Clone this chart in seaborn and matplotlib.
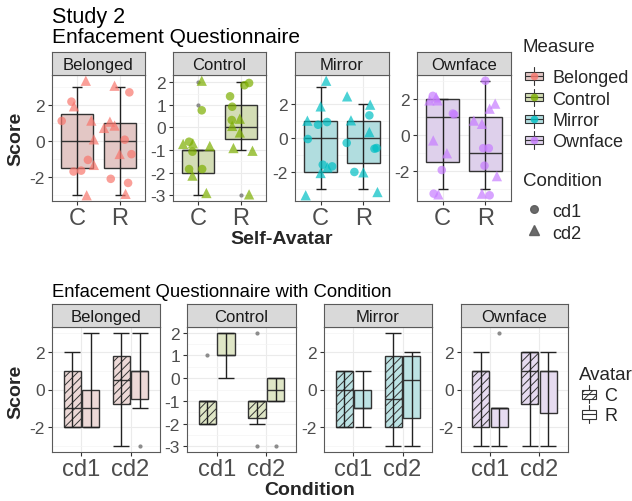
import matplotlib
matplotlib.use("Agg")
import matplotlib.pyplot as plt
import numpy as np
import pandas as pd
import seaborn as sns
from matplotlib import cbook
from matplotlib.legend_handler import HandlerBase
from matplotlib.lines import Line2D
from matplotlib.patches import Patch, Rectangle
from matplotlib.ticker import MultipleLocator

MEASURES = ["Belonged", "Control", "Mirror", "Ownface"]
AVATARS = ["C", "R"]
CONDITIONS = ["cd1", "cd2"]

# each panel has the same layout of rows: C/cd1 (5), C/cd2 (6), R/cd1 (5), R/cd2 (6)
POINT_AVATAR = ["C"] * 11 + ["R"] * 11
POINT_COND = (["cd1"] * 5 + ["cd2"] * 6) * 2

# scores as drawn in the top row (jittered up to ~0.4 around the integer score)
BELONGED_Y = [2.2, 1.12, -1.06, -1.71, -1.66,
              3.37, 1.94, 1.14, 0.09, -1.34, -3.04,
              2.72, 0.07, -0.74, -2.12, -2.35,
              3.09, 1.08, 0.73, 0.86, -0.73, -2.96]
CONTROL_Y = [0.76, -0.63, -1.07, -1.84, -1.84,
             2.07, -0.73, -0.70, -0.82, -2.13, -2.9,
             1.97, 1.87, 1.38, 0.92, 0.33,
             0.39, 0.07, -0.22, -0.91, -1.03, -2.96]
MIRROR_Y = [0.78, 0.94, -0.06, -1.57, -1.67,
            3.37, 1.86, 1.02, -1.73, -2.06, -3.37,
            1.33, -0.29, -0.63, -0.59, -2.0,
            2.45, 1.96, 1.04, 0.35, -2.02, -3.18]
OWNFACE_Y = [2.18, 1.15, 1.2, -1.93, -3.24,
             1.93, 1.93, 2.1, -0.29, -1.0, -3.28,
             3.02, -0.72, -0.72, -1.69, -3.33,
             1.75, 1.47, 0.81, 0.63, -2.27, -3.24]

# horizontal jitter of the same points, in category units
BELONGED_DX = [-0.14, -0.37, 0.25, -0.09, 0.09,
               0.20, -0.08, 0.33, 0.39, 0.39, 0.22,
               0.23, 0.12, 0.28, -0.21, 0.20,
               -0.12, -0.23, -0.37, -0.12, 0.0, 0.14]
CONTROL_DX = [0.08, -0.22, -0.14, -0.22, 0.09,
              0.08, -0.36, -0.13, 0.27, -0.14, 0.19,
              0.20, 0.09, -0.25, -0.20, -0.21,
              -0.02, -0.20, -0.02, -0.17, 0.28, 0.20]
MIRROR_DX = [-0.06, 0.15, -0.30, 0.05, 0.27,
             0.13, 0.0, -0.31, 0.16, 0.0, -0.35,
             0.14, -0.39, 0.26, 0.31, -0.21,
             -0.38, 0.16, -0.29, 0.14, 0.0, 0.33]
OWNFACE_DX = [-0.23, 0.27, 0.24, -0.02, -0.21,
              -0.31, -0.12, -0.15, -0.22, 0.10, -0.10,
              0.0, -0.05, 0.08, -0.02, 0.10,
              0.23, 0.10, -0.27, -0.08, 0.27, -0.08]

POINTS_Y = {"Belonged": BELONGED_Y, "Control": CONTROL_Y, "Mirror": MIRROR_Y, "Ownface": OWNFACE_Y}
POINTS_DX = {"Belonged": BELONGED_DX, "Control": CONTROL_DX, "Mirror": MIRROR_DX, "Ownface": OWNFACE_DX}

POINT_COLORS = {"Belonged": "#F8766D", "Control": "#7CAE00", "Mirror": "#00BFC4", "Ownface": "#C77CFF"}
TOP_FILL = {"Belonged": "#E3C7C5", "Control": "#D3DDB5", "Mirror": "#B1DDDF", "Ownface": "#DED0EB"}
BOT_FILL = {"Belonged": "#EDD9D7", "Control": "#DFE6C6", "Mirror": "#BDE3E4", "Ownface": "#E6DBF0"}
TICK_STEP = {"Belonged": 2, "Control": 1, "Mirror": 2, "Ownface": 2}

LINE = "#333333"
HATCH = "////"
W, H = 632, 502
TOP_X = [(52, 145), (173, 266), (295, 389), (417, 511)]
TOP_Y = (76, 202)
BOT_X = [(52, 160), (187, 296), (324, 432), (461, 568)]
BOT_Y = (328, 453)
STRIP_H = 23

sns.set_theme(style="white")
plt.rcParams["font.family"] = ["Liberation Sans", "DejaVu Sans"]
plt.rcParams["axes.unicode_minus"] = False
plt.rcParams["hatch.linewidth"] = 0.7


def px_rect(x0, x1, y0, y1):
    return [x0 / W, 1 - y1 / H, (x1 - x0) / W, (y1 - y0) / H]


class BoxKey(HandlerBase):
    """little boxplot glyph used as legend key (optionally with the point colour on top)"""

    def __init__(self, face, dot=None, hatch=None, box_frac=0.5):
        super().__init__()
        self.face, self.dot, self.hatch, self.box_frac = face, dot, hatch, box_frac

    def create_artists(self, legend, orig_handle, xd, yd, width, height, fontsize, trans):
        x0, y0 = -xd, -yd
        bh = self.box_frac * height
        box = Rectangle((x0, y0 + (height - bh) / 2), width, bh, facecolor=self.face,
                        edgecolor=LINE, lw=0.8, hatch=self.hatch, transform=trans)
        whisk = Line2D([x0 + width / 2] * 2, [y0 - 0.05 * height, y0 + 1.05 * height],
                       color=LINE, lw=0.8, transform=trans)
        med = Line2D([x0, x0 + width], [y0 + height / 2] * 2, color=LINE, lw=0.8, transform=trans)
        artists = [whisk, box, med]
        if self.dot:
            artists.append(Line2D([x0 + width / 2], [y0 + height / 2], marker="o", ms=5.5, ls="",
                                  color=self.dot, alpha=0.8, mec="none", transform=trans))
        return artists


def style_panel(ax, step, lims):
    ax.set_xlim(-0.6, 1.6)
    ax.set_ylim(*lims)
    ax.set_xlabel("")
    ax.set_ylabel("")
    ax.yaxis.set_major_locator(MultipleLocator(step))
    ax.yaxis.set_minor_locator(MultipleLocator(step / 2))
    ax.grid(which="major", color="#EBEBEB", lw=0.8)
    ax.grid(which="minor", axis="y", color="#F4F4F4", lw=0.5)
    ax.set_axisbelow(True)
    for s in ax.spines.values():
        s.set_visible(True)
        s.set_color("#5A5A5A")
        s.set_linewidth(0.8)
    ax.tick_params(which="major", length=3, width=0.8, color=LINE, labelcolor="#4D4D4D",
                   left=True, bottom=True)
    ax.tick_params(which="minor", length=0)
    ax.tick_params(axis="y", labelsize=12.5, pad=2)
    ax.tick_params(axis="x", labelsize=17, pad=1)


def add_strip(fig, x0, x1, y_top, label):
    sax = fig.add_axes(px_rect(x0, x1, y_top - STRIP_H, y_top))
    sax.set_facecolor("#D9D9D9")
    sax.set_xticks([])
    sax.set_yticks([])
    for s in sax.spines.values():
        s.set_color("#5A5A5A")
        s.set_linewidth(0.8)
    sax.text(0.5, 0.45, label, ha="center", va="center", fontsize=12, color="#1A1A1A",
             transform=sax.transAxes)


def limits(values):
    lo, hi = min(values), max(values)
    pad = 0.05 * (hi - lo)
    return lo - pad, hi + pad


def extent(stats):
    vals = []
    for st in stats:
        vals += [st["whislo"], st["whishi"]] + list(st["fliers"])
    return vals


HIDE = {"visible": False}
FLIER = {"marker": "o", "markerfacecolor": "#8C8C8C", "markeredgecolor": "#8C8C8C", "markersize": 2}

fig = plt.figure(figsize=(W / 100, H / 100), dpi=100)

for i, m in enumerate(MEASURES):
    df = pd.DataFrame({
        "avatar": POINT_AVATAR,
        "cond": POINT_COND,
        "y": POINTS_Y[m],
        "dx": POINTS_DX[m],
    })
    df["score"] = np.rint(df["y"])
    df["xpos"] = df["avatar"].map({a: k for k, a in enumerate(AVATARS)}) + df["dx"]

    # ---- top row: box per avatar + jittered points
    ax = fig.add_axes(px_rect(*TOP_X[i], *TOP_Y))
    sns.boxplot(data=df, x="avatar", y="score", order=AVATARS, color=TOP_FILL[m], saturation=1,
                width=0.76, linecolor=LINE, linewidth=1, whiskerprops=HIDE, capprops=HIDE,
                flierprops=FLIER, ax=ax)
    stats = cbook.boxplot_stats([df.loc[df["avatar"] == a, "score"].to_numpy() for a in AVATARS], whis=1.5)
    for k, st in enumerate(stats):
        # errorbar capsize is half the cap length
        ax.errorbar(k, st["med"], yerr=[[st["med"] - st["whislo"]], [st["whishi"] - st["med"]]],
                    fmt="none", ecolor="#222222", elinewidth=1, capsize=3.6, capthick=1, zorder=2.5)
    sns.scatterplot(data=df, x="xpos", y="y", style="cond", style_order=CONDITIONS,
                    markers={"cd1": "o", "cd2": "^"}, size="cond", sizes={"cd1": 38, "cd2": 55},
                    color=POINT_COLORS[m], alpha=0.7, linewidth=0, legend=False, ax=ax, zorder=3)
    style_panel(ax, TICK_STEP[m], limits(list(df["y"]) + extent(stats)))
    add_strip(fig, *TOP_X[i], TOP_Y[0], m)

    # ---- bottom row: box per condition, dodged by avatar
    ax = fig.add_axes(px_rect(*BOT_X[i], *BOT_Y))
    sns.boxplot(data=df, x="cond", y="score", hue="avatar", order=CONDITIONS, hue_order=AVATARS,
                palette={a: BOT_FILL[m] for a in AVATARS}, saturation=1, width=0.76, gap=0.08,
                linecolor=LINE, linewidth=1, whiskerprops=HIDE, capprops=HIDE,
                flierprops=FLIER, legend=False, ax=ax)
    for p in ax.patches:
        ext = p.get_path().get_extents()
        cx = (ext.x0 + ext.x1) / 2
        if cx < round(cx):
            p.set_hatch(HATCH)
    all_stats = []
    for ci, c in enumerate(CONDITIONS):
        for ai, a in enumerate(AVATARS):
            sel = df.loc[(df["cond"] == c) & (df["avatar"] == a), "score"].to_numpy()
            st = cbook.boxplot_stats(sel, whis=1.5)[0]
            all_stats.append(st)
            ax.errorbar(ci + (ai - 0.5) * 0.38, st["med"],
                        yerr=[[st["med"] - st["whislo"]], [st["whishi"] - st["med"]]],
                        fmt="none", ecolor="#222222", elinewidth=1, capsize=6.0, capthick=1, zorder=2.5)
    style_panel(ax, TICK_STEP[m], limits(extent(all_stats)))
    add_strip(fig, *BOT_X[i], BOT_Y[0], m)

# titles and axis labels
fig.text(52 / W, 1 - 23 / H, "Study 2", fontsize=15.5, color="black", va="baseline")
fig.text(52 / W, 1 - 43 / H, "Enfacement Questionnaire", fontsize=15, color="black", va="baseline")
fig.text(52 / W, 1 - 297 / H, "Enfacement Questionnaire with Condition", fontsize=13.3,
         color="black", va="baseline")
fig.text(15.5 / W, 1 - 139 / H, "Score", fontsize=14, fontweight="bold", rotation=90,
         ha="center", va="center")
fig.text(15.5 / W, 1 - 392 / H, "Score", fontsize=14, fontweight="bold", rotation=90,
         ha="center", va="center")
fig.text(281.5 / W, 1 - 239 / H, "Self-Avatar", fontsize=14, fontweight="bold", ha="center", va="center")
fig.text(310 / W, 1 - 491 / H, "Condition", fontsize=14, fontweight="bold", ha="center", va="center")

# legends: titles as text, entries as legends
fig.text(523 / W, 1 - 47 / H, "Measure", fontsize=13.5, va="center")
fig.text(523 / W, 1 - 181 / H, "Condition", fontsize=13.5, va="center")
fig.text(579 / W, 1 - 376 / H, "Avatar", fontsize=13.5, va="center")

leg_kw = dict(loc="upper left", frameon=False, fontsize=13, borderpad=0, borderaxespad=0,
              handleheight=1.0, labelspacing=0.17)
measure_handles = [Patch() for _ in MEASURES]
fig.legend(measure_handles, MEASURES, bbox_to_anchor=(525 / W, 1 - 69 / H),
           handlelength=1.0, handletextpad=0.5,
           handler_map={h: BoxKey(TOP_FILL[m], dot=POINT_COLORS[m]) for h, m in zip(measure_handles, MEASURES)},
           **leg_kw)
cond_handles = [Line2D([], [], marker=mk, ls="", color="#5A5A5A", ms=ms, alpha=0.9)
                for mk, ms in zip(["o", "^"], [5.5, 6.5])]
fig.legend(cond_handles, CONDITIONS, bbox_to_anchor=(525 / W, 1 - 203 / H),
           handlelength=1.0, handletextpad=0.5, **leg_kw)
av_handles = [Patch() for _ in AVATARS]
fig.legend(av_handles, AVATARS, bbox_to_anchor=(582 / W, 1 - 387 / H),
           handlelength=0.8, handletextpad=0.45,
           handler_map={av_handles[0]: BoxKey("white", hatch=HATCH, box_frac=0.55),
                        av_handles[1]: BoxKey("white", box_frac=0.55)},
           **dict(leg_kw, labelspacing=0.1))

fig.savefig("out.png", dpi=100)
